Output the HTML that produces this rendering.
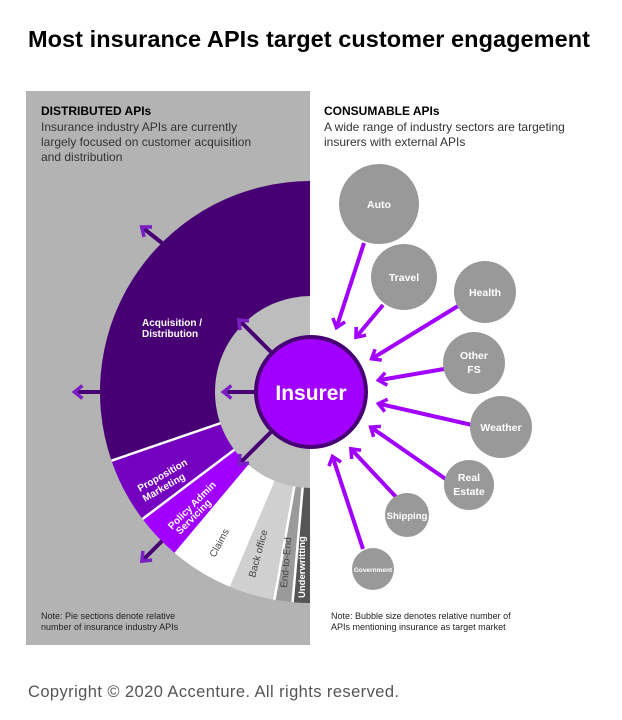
<!DOCTYPE html>
<html><head><meta charset="utf-8"><style>
body{margin:0;background:#fff;width:622px;height:720px;overflow:hidden;font-family:"Liberation Sans",sans-serif}
svg{display:block}
</style></head><body>
<svg id="s" width="622" height="720" viewBox="0 0 622 720" xmlns="http://www.w3.org/2000/svg" font-family="Liberation Sans, sans-serif">
<defs>
<marker id="ah" viewBox="0 0 10 10" refX="5" refY="5" markerWidth="4" markerHeight="4" orient="auto-start-reverse" markerUnits="strokeWidth">
<path d="M1,1 L6,5 L1,9" fill="none" stroke="#a100ff" stroke-width="2.2"/></marker>
<marker id="ad" viewBox="0 0 10 10" refX="5" refY="5" markerWidth="4" markerHeight="4" orient="auto" markerUnits="strokeWidth">
<path d="M1,1 L6,5 L1,9" fill="none" stroke="#7a1fc2" stroke-width="2.2"/></marker>
<clipPath id="cl"><rect x="26" y="91" width="284" height="554"/></clipPath>
</defs>
<text x="28" y="47" font-size="23.5" font-weight="bold" fill="#000" textLength="562">Most insurance APIs target customer engagement</text>
<rect x="26" y="91" width="284" height="554" fill="#b3b3b3"/>
<text x="41" y="115" font-size="12" font-weight="bold" fill="#000">DISTRIBUTED APIs</text>
<text x="41" y="131" font-size="12" fill="#333">Insurance industry APIs are currently</text>
<text x="41" y="146" font-size="12" fill="#333">largely focused on customer acquisition</text>
<text x="41" y="161" font-size="12" fill="#333">and distribution</text>
<text x="324" y="115" font-size="12" font-weight="bold" fill="#000">CONSUMABLE APIs</text>
<text x="324" y="131" font-size="12" fill="#333">A wide range of industry sectors are targeting</text>
<text x="324" y="146" font-size="12" fill="#333">insurers with external APIs</text>
<g id="pie" clip-path="url(#cl)"></g>
<circle cx="311" cy="392" r="96" fill="#bdbdbd" clip-path="url(#cl)"/>
<g stroke="#460073" stroke-width="4" fill="none" marker-end="url(#ad)">
<line x1="271" y1="352" x2="240" y2="321"/>
<line x1="255" y1="392" x2="225" y2="392"/>
<line x1="271" y1="432" x2="240" y2="463"/>
<line x1="162" y1="243" x2="143" y2="228"/>
<line x1="101" y1="392" x2="76" y2="392"/>
<line x1="162" y1="541" x2="143" y2="560"/>
</g>
<circle cx="311" cy="392" r="55" fill="#a100ff" stroke="#460073" stroke-width="4"/>
<text x="311" y="400" font-size="21" font-weight="bold" fill="#fff" text-anchor="middle">Insurer</text>
<g fill="#fff" font-size="10" font-weight="bold">
<text x="142" y="326">Acquisition /</text><text x="142" y="337">Distribution</text>
<text transform="translate(140,492) rotate(-30)">Proposition</text><text transform="translate(145,502) rotate(-30)">Marketing</text>
<text transform="translate(172,530) rotate(-45)">Policy Admin</text><text transform="translate(180,535) rotate(-45)">Servicing</text>
</g>
<g font-size="10" fill="#444">
<text transform="translate(215,558) rotate(-62)">Claims</text>
<text transform="translate(255,578) rotate(-75)">Back office</text>
<text transform="translate(287,588) rotate(-85)" fill="#444">End-to-End</text>
<text transform="translate(305,598) rotate(-90)" fill="#fff" font-weight="bold" font-size="9.5">Underwritting</text>
</g>
<g stroke="#a100ff" stroke-width="4" fill="none" marker-end="url(#ah)">
<line x1="364" y1="243" x2="337" y2="326"/>
<line x1="383" y1="305" x2="357" y2="336"/>
<line x1="458" y1="306" x2="373" y2="358"/>
<line x1="444" y1="369" x2="380" y2="380"/>
<line x1="472" y1="425" x2="380" y2="404"/>
<line x1="447" y1="480" x2="372" y2="428"/>
<line x1="396" y1="497" x2="352" y2="450"/>
<line x1="363" y1="549" x2="333" y2="458"/>
</g>
<g fill="#999999">
<circle cx="379" cy="204" r="40"/><circle cx="404" cy="277" r="33"/><circle cx="485" cy="292" r="31"/>
<circle cx="474" cy="363" r="31"/><circle cx="501" cy="427" r="31"/><circle cx="469" cy="485" r="25"/>
<circle cx="407" cy="515" r="22"/><circle cx="373" cy="569" r="21"/>
</g>
<g fill="#fff" font-size="10.5" font-weight="bold" text-anchor="middle">
<text x="379" y="208">Auto</text><text x="404" y="281">Travel</text><text x="485" y="296">Health</text>
<text x="474" y="359">Other</text><text x="474" y="373">FS</text><text x="501" y="431">Weather</text>
<text x="469" y="481">Real</text><text x="469" y="495">Estate</text>
<text x="407" y="519" font-size="9.5">Shipping</text><text x="373" y="572" font-size="6.5">Government</text>
</g>
<text x="41" y="619" font-size="9" fill="#222">Note: Pie sections denote relative</text>
<text x="41" y="630" font-size="9" fill="#222">number of insurance industry APIs</text>
<text x="331" y="619" font-size="9" fill="#222">Note: Bubble size denotes relative number of</text>
<text x="331" y="630" font-size="9" fill="#222">APIs mentioning insurance as target market</text>
<text x="28" y="697" font-size="16.5" fill="#555" textLength="371">Copyright © 2020 Accenture. All rights reserved.</text>
</svg>
<script>
(function(){
var cx=311,cy=392,R=211,g=document.getElementById('pie');
var sl=[[90,199,'#460073'],[199,217,'#7500c0'],[217,230,'#a100ff'],[230,247,'#ffffff'],[247,260,'#d0d0d0'],[260,265,'#9a9a9a'],[265,271,'#555555']];
function pt(a,r){r=r||R;var t=a*Math.PI/180;return [cx+r*Math.cos(t),cy-r*Math.sin(t)];}
var h='';
sl.forEach(function(s){var p1=pt(s[0]),p2=pt(s[1]);
h+='<path d="M'+cx+','+cy+' L'+p1[0].toFixed(1)+','+p1[1].toFixed(1)+' A'+R+','+R+' 0 0 0 '+p2[0].toFixed(1)+','+p2[1].toFixed(1)+' Z" fill="'+s[2]+'"/>';});
sl.slice(1).forEach(function(s){var p=pt(s[0]);
h+='<line x1="'+cx+'" y1="'+cy+'" x2="'+p[0].toFixed(1)+'" y2="'+p[1].toFixed(1)+'" stroke="#fff" stroke-width="2.5"/>';});
g.innerHTML=h;
})();
</script>
</body></html>
